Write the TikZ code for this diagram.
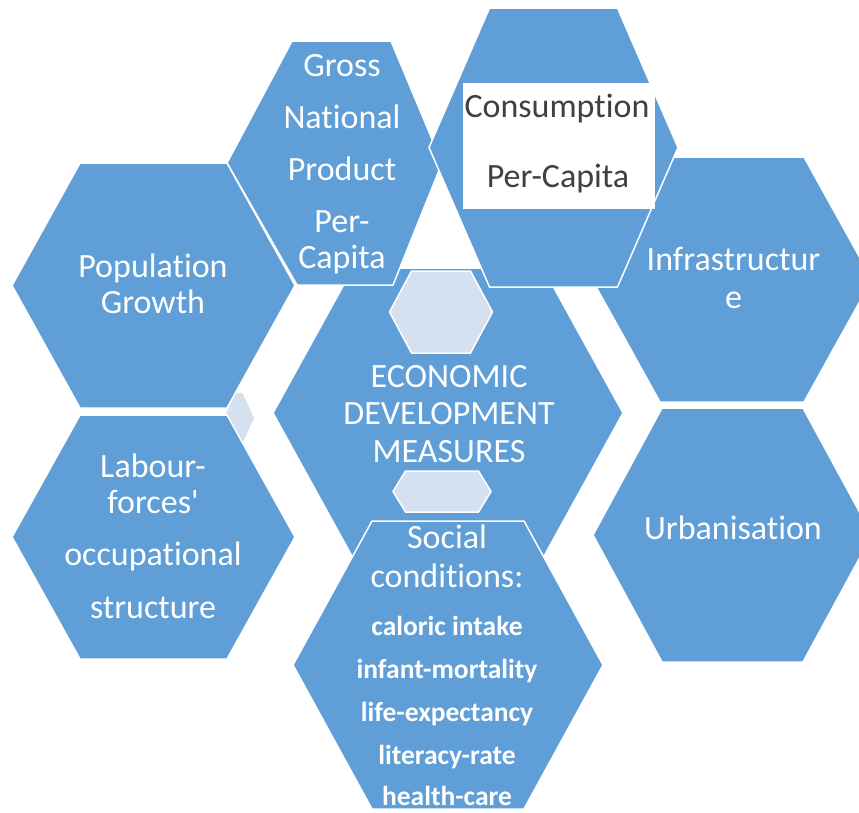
\documentclass[tikz,border=0pt]{standalone}
\usepackage{fontspec}
\setmainfont{Carlito}[Ligatures={NoCommon}]
\definecolor{hexblue}{HTML}{5F9ED6}
\definecolor{hexlight}{HTML}{D5E0F0}
\definecolor{txtgray}{HTML}{404040}
% #1 style, #2 cx, #3 cy, #4 half width, #5 half height, #6 half top edge
\newcommand{\hexg}[6][hexbox]{%
  \path[#1] ({#2-#4},{#3}) -- ({#2-#6},{#3-#5}) -- ({#2+#6},{#3-#5}) --
    ({#2+#4},{#3}) -- ({#2+#6},{#3+#5}) -- ({#2-#6},{#3+#5}) -- cycle;}
\begin{document}
\begin{tikzpicture}[x=1pt,y=-1pt,
  hexbox/.style={fill=hexblue,draw=white,line width=1.5pt},
  lightbox/.style={fill=hexlight,draw=white,line width=1.5pt},
  lbl/.style={anchor=base,text=white,inner sep=0pt,font=\fontsize{34}{38}\selectfont},
  sml/.style={lbl,font=\bfseries\fontsize{27.5}{30}\selectfont},
  graylbl/.style={lbl,text=txtgray}]
\useasboundingbox (0,0) rectangle (859,812);
\clip (0,0) rectangle (859,812);
% hexagons (back to front)
\hexg[lightbox]{239}{418}{16}{26}{4}
\hexg{448}{413}{175}{145}{95}
\hexg[lightbox]{441}{312}{51.5}{41}{29.5}
\hexg[lightbox]{442}{491.5}{49}{20.5}{36.5}
\path[hexbox] (227,163) -- (292,41) -- (391,41) -- (442,163) -- (393,285) -- (297,285) -- cycle;
\hexg{732}{279.5}{140}{122.5}{72}
\hexg{553.5}{147.5}{124.5}{139.5}{64}
\fill[white] (463,83) rectangle (655,209);
\hexg{153.5}{285.5}{141.5}{122.5}{73.5}
\hexg{153.5}{537}{141.5}{122}{73.5}
\hexg{732.5}{535}{139.5}{127}{70.5}
\hexg{448}{665}{155}{144}{76}
% texts
\node[lbl] (pop1) at (153,277) {Population};
\node[lbl] (pop2) at (153,313) {Growth};
\node[lbl] (gnp1) at (342,76) {Gross};
\node[lbl] (gnp2) at (342,128) {National};
\node[lbl] (gnp3) at (342,180) {Product};
\node[lbl] (gnp4) at (342,232) {Per-};
\node[lbl] (gnp5) at (342,268) {Capita};
\node[graylbl] (con1) at (557,117) {Consumption};
\node[graylbl] (con2) at (558,187) {Per-Capita};
\node[lbl] (inf1) at (733.5,270) {Infrastructur};
\node[lbl] (inf2) at (733.5,308) {e};
\node[lbl] (urb) at (733,539) {Urbanisation};
\node[lbl] (eco1) at (449,387) {ECONOMIC};
\node[lbl] (eco2) at (449,424) {DEVELOPMENT};
\node[lbl] (eco3) at (449,462) {MEASURES};
\node[lbl] (lab1) at (153,477) {Labour-};
\node[lbl] (lab2) at (153,513) {forces\textquotesingle};
\node[lbl] (lab3) at (153,565) {occupational};
\node[lbl] (lab4) at (153,618) {structure};
\node[lbl] (soc1) at (447,548) {Social};
\node[lbl] (soc2) at (447,587) {conditions:};
\node[sml] (soc3) at (447,635) {caloric intake};
\node[sml] (soc4) at (447,678) {infant-mortality};
\node[sml] (soc5) at (447,721) {life-expectancy};
\node[sml] (soc6) at (447,764) {literacy-rate};
\node[sml] (soc7) at (447,805) {health-care};
\end{tikzpicture}
\end{document}
